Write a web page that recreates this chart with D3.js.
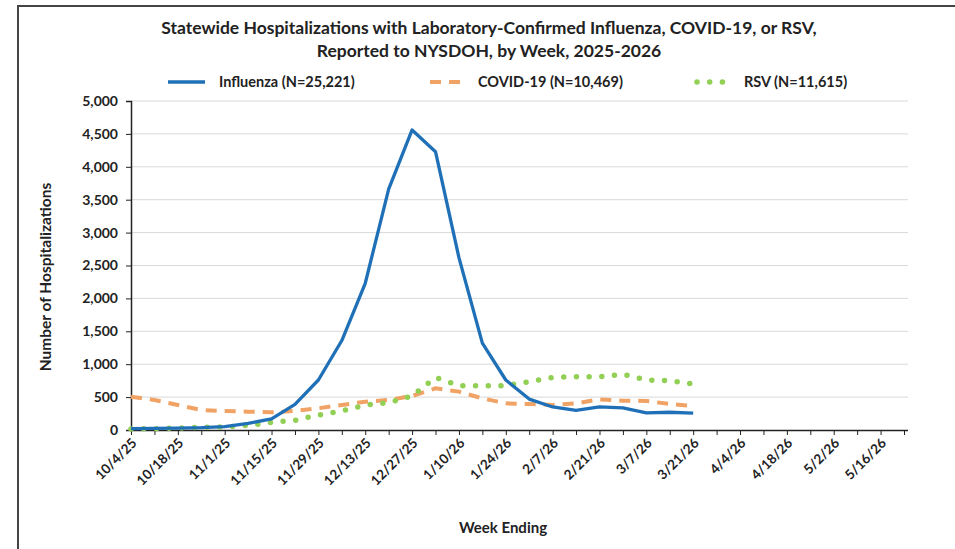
<!DOCTYPE html>
<html><head><meta charset="utf-8">
<script src="https://cdn.jsdelivr.net/npm/d3@7"></script>
<style>
body{margin:0;background:#fff;}
svg{display:block;font-family:Lato,"Open Sans",sans-serif;}
</style></head><body>
<svg id="c" width="955" height="549"></svg>
<script>
const weeks = ["10/4/25","10/11/25","10/18/25","10/25/25","11/1/25","11/8/25","11/15/25","11/22/25","11/29/25","12/6/25","12/13/25","12/20/25","12/27/25","1/3/26","1/10/26","1/17/26","1/24/26","1/31/26","2/7/26","2/14/26","2/21/26","2/28/26","3/7/26","3/14/26","3/21/26","3/28/26","4/4/26","4/11/26","4/18/26","4/25/26","5/2/26","5/9/26","5/16/26","5/23/26"];
const tickLabels = ["10/4/25","10/18/25","11/1/25","11/15/25","11/29/25","12/13/25","12/27/25","1/10/26","1/24/26","2/7/26","2/21/26","3/7/26","3/21/26","4/4/26","4/18/26","5/2/26","5/16/26"];
const influenza = [20,25,30,35,50,100,170,390,760,1360,2230,3660,4560,4230,2620,1320,760,470,350,300,350,335,260,270,255];
const covid = [506,456,380,304,289,279,269,289,330,380,430,456,517,633,583,481,405,395,380,405,466,446,441,395,365];
const rsv = [15,20,30,40,46,70,116,147,228,289,380,415,517,800,674,674,674,735,800,811,811,846,760,750,700];
const yTicks = [0,500,1000,1500,2000,2500,3000,3500,4000,4500,5000];
const seriesNames = ["Influenza (N=25,221)","COVID-19 (N=10,469)","RSV (N=11,615)"];

const svg = d3.select("#c");
const L = 131, R = 904, T = 101, B = 430;
const x = d3.scalePoint().domain(weeks).range([L, R]);
const y = d3.scaleLinear().domain([0,5000]).range([B, T]);

// frame
svg.append("path").attr("d","M18,549 L18,6 L955,6").attr("fill","none").attr("stroke","#444").attr("stroke-width",2);

// gridlines
svg.append("g").selectAll("line").data(yTicks.slice(1)).join("line")
  .attr("x1",L).attr("x2",908).attr("y1",d=>y(d)).attr("y2",d=>y(d))
  .attr("stroke","#d9d9d9").attr("stroke-width",1);

// y axis
const ya = svg.append("g").attr("transform",`translate(${L},0)`)
  .call(d3.axisLeft(y).tickValues(yTicks).tickFormat(d3.format(",")).tickSize(5).tickPadding(8));
ya.select(".domain").attr("stroke","#222").attr("stroke-width",1.5);
ya.selectAll(".tick line").attr("stroke","#222");
ya.selectAll("text").attr("font-size",14).attr("font-weight","bold").attr("fill","#222").attr("font-family","Lato,sans-serif");

// x axis
const xa = svg.append("g").attr("transform",`translate(0,${B})`)
  .call(d3.axisBottom(x).tickSize(5).tickFormat(d=>tickLabels.includes(d)?d:""));
xa.select(".domain").attr("d",`M${L},0.5H908`).attr("stroke","#222").attr("stroke-width",1.5);
xa.selectAll(".tick line").attr("stroke","#222");
xa.selectAll("text").attr("font-size",13.5).attr("font-weight","bold").attr("fill","#222")
  .attr("font-family","Lato,sans-serif")
  .attr("text-anchor","end").attr("dy",0).attr("y",0)
  .attr("transform","translate(6,14) rotate(-45)");

// lines
const line = d3.line().x((d,i)=>x(weeks[i])).y(d=>y(d));
svg.append("path").datum(covid).attr("d",line).attr("fill","none")
  .attr("stroke","#f0a365").attr("stroke-width",4).attr("stroke-dasharray","11,8");
svg.append("path").datum(rsv).attr("d",line).attr("fill","none")
  .attr("stroke","#92cf55").attr("stroke-width",5.5).attr("stroke-linecap","round").attr("stroke-dasharray","0,12.7");
svg.append("path").datum(influenza).attr("d",line).attr("fill","none")
  .attr("stroke","#1f70b6").attr("stroke-width",3.3).attr("stroke-linejoin","round");

// title
const title = svg.append("text").attr("text-anchor","middle").attr("font-weight","bold").attr("font-size",17.5).attr("fill","#222");
title.append("tspan").attr("x",489).attr("y",34).text("Statewide Hospitalizations with Laboratory-Confirmed  Influenza, COVID-19, or RSV,");
title.append("tspan").attr("x",489).attr("y",57).text("Reported to NYSDOH, by Week, 2025-2026");

// legend
const lg = svg.append("g").attr("font-weight","bold").attr("font-size",14.5).attr("fill","#222");
lg.append("line").attr("x1",168).attr("x2",205).attr("y1",82).attr("y2",82).attr("stroke","#1f70b6").attr("stroke-width",3.3);
lg.append("text").attr("x",219).attr("y",87).text(seriesNames[0]);
lg.append("line").attr("x1",430).attr("x2",466).attr("y1",82).attr("y2",82).attr("stroke","#f0a365").attr("stroke-width",4).attr("stroke-dasharray","11,8");
lg.append("text").attr("x",478).attr("y",87).text(seriesNames[1]);
lg.append("line").attr("x1",697).attr("x2",724).attr("y1",82).attr("y2",82).attr("stroke","#92cf55").attr("stroke-width",5.5).attr("stroke-linecap","round").attr("stroke-dasharray","0,12.7");
lg.append("text").attr("x",744).attr("y",87).text(seriesNames[2]);

// axis titles
svg.append("text").attr("transform","translate(51,277) rotate(-90)").attr("text-anchor","middle")
  .attr("font-weight","bold").attr("font-size",15.5).attr("fill","#222").text("Number of Hospitalizations");
svg.append("text").attr("x",503).attr("y",533).attr("text-anchor","middle")
  .attr("font-weight","bold").attr("font-size",15).attr("fill","#222").text("Week Ending");
</script></body></html>
